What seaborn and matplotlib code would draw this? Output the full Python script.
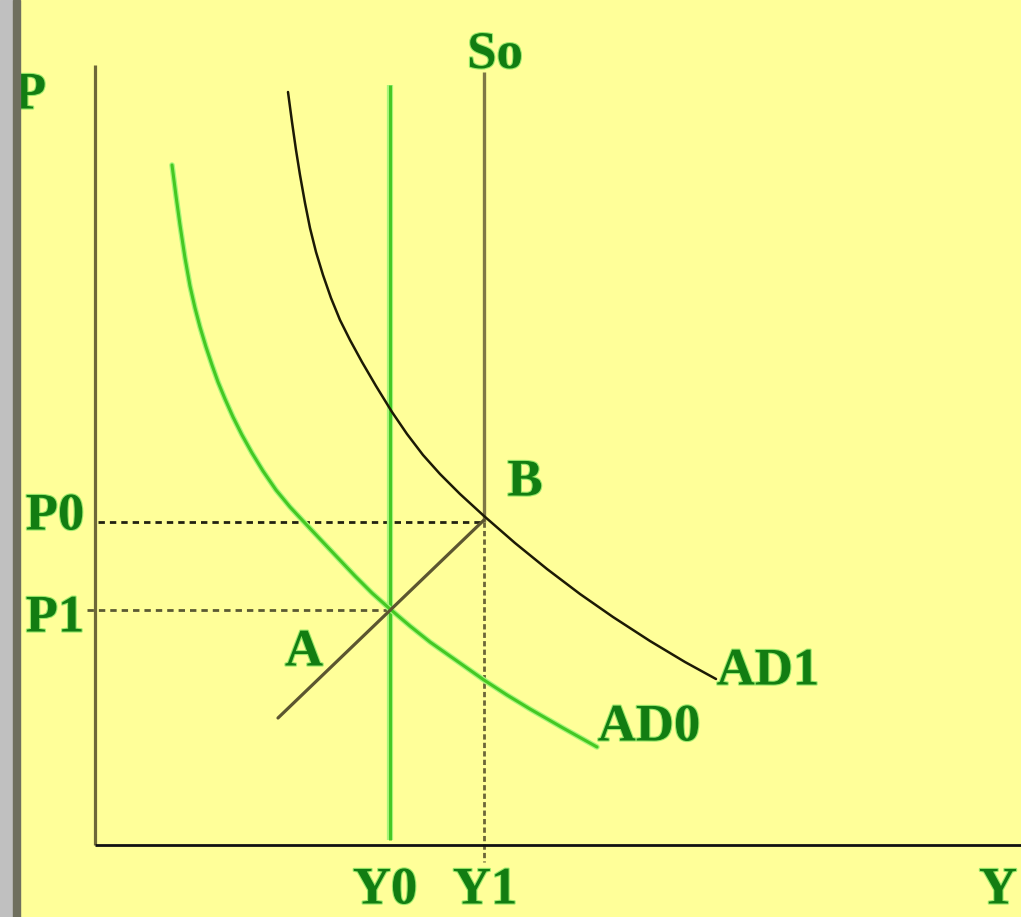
import numpy as np
import pandas as pd
import seaborn as sns
import matplotlib
matplotlib.use("Agg")
import matplotlib.pyplot as plt
from matplotlib import font_manager as fm
from matplotlib import patheffects as pe
from matplotlib.patches import Rectangle

# ---- model values (Y = output, P = price level) ----
Y0 = 29.5          # output before the shift
Y1 = 38.9          # output after the shift (position of So)
P0 = 32.3          # price level at B
P1 = 23.5          # price level at A

# aggregate demand, initial (AD0)
ad0_y = [7.7, 8.1, 8.5, 9.0, 9.5, 10.0, 10.5, 11.1, 11.7, 12.3, 13.0, 13.8, 14.7, 15.7, 16.8, 18.1,
         19.5, 20.9, 22.5, 24.2, 26.0, 27.7, 29.5, 31.5, 33.5, 36.2, 38.9, 41.2, 43.5, 46.8, 50.2]
ad0_p = [68.0, 64.9, 62.0, 58.7, 55.9, 53.7, 51.8, 49.8, 48.0, 46.3, 44.6, 42.8, 41.0, 39.2, 37.4, 35.5,
         33.8, 32.3, 30.6, 28.8, 26.9, 25.2, 23.6, 21.9, 20.3, 18.4, 16.5, 15.0, 13.6, 11.7, 9.8]

# aggregate demand, shifted out (AD1)
ad1_y = [19.3, 19.7, 20.1, 20.5, 21.0, 21.5, 22.1, 22.8, 23.6, 24.5, 25.5, 26.7, 28.1, 29.7, 31.2,
         32.8, 34.5, 36.5, 38.9, 42.0, 45.2, 48.5, 51.8, 55.5, 59.0, 62.1]
ad1_p = [75.3, 72.3, 69.5, 67.0, 64.2, 61.7, 59.3, 57.0, 54.7, 52.5, 50.5, 48.3, 45.9, 43.3, 41.1,
         39.0, 37.1, 35.1, 32.9, 30.2, 27.6, 25.1, 22.8, 20.4, 18.3, 16.6]

# path through the equilibria A -> B
ab_y = [18.3, 38.9]
ab_p = [12.7, 32.5]

point_labels = ["P", "So", "P0", "P1", "A", "B", "AD1", "AD0", "Y0", "Y1", "Y"]

# ---- styling ----
BG = "#FFFF99"
TXT = "#127d12"

sns.set_theme(style="white")
names = {f.name for f in fm.fontManager.ttflist}
family = next((n for n in ["Liberation Serif", "DejaVu Serif"] if n in names), "DejaVu Sans")
plt.rcParams["font.family"] = [family, "DejaVu Sans"]
plt.rcParams["lines.scale_dashes"] = False

W, H = 1021, 917
fig = plt.figure(figsize=(W / 100, H / 100), dpi=100, facecolor=BG)
ax = fig.add_axes([0, 0, 1, 1])
ax.set_facecolor(BG)
ax.set_xlim(-9.5, 92.6)
ax.set_ylim(-7.2, 84.5)
ax.set_axis_off()

# window frame strip on the left
fig.patches.append(Rectangle((0, 0), 13 / W, 1, transform=fig.transFigure, color="#c0c0c0", zorder=0))
fig.patches.append(Rectangle((13 / W, 0), 7 / W, 1, transform=fig.transFigure, color="#6f6f5e", zorder=0))

# axes
ax.plot([0, 0], [0, 78], color="#6e6838", lw=2.3, solid_capstyle="butt", zorder=3)
ax.plot([0, 92.6], [0, 0], color="#111111", lw=2.0, solid_capstyle="butt", zorder=3)

# reference lines
dash_long = (0, (4.6, 3.6))
dash_short = (0, (3.8, 2.3))
ax.plot([0.3, Y1], [P0, P0], color="#222211", lw=2.0, linestyle=dash_long, zorder=2)
ax.plot([-0.8, Y0], [P1, P1], color="#5b5a33", lw=2.0, linestyle=dash_long, zorder=2)
ax.plot([Y1, Y1], [P0, -1.7], color="#6b6638", lw=2.0, linestyle=dash_short, zorder=2)

# supply lines
ax.plot([Y1, Y1], [P0, 77.3], color="#7f7845", lw=2.4, solid_capstyle="butt", zorder=3)
ax.plot([Y0, Y0], [0.5, 76.0], color="#a8f57a", lw=4.5, solid_capstyle="butt", zorder=3)
ax.plot([Y0, Y0], [0.5, 76.0], color="#45c825", lw=2.2, solid_capstyle="butt", zorder=3)

# demand curves
ad0 = pd.DataFrame({"Y": ad0_y, "P": ad0_p})
ad1 = pd.DataFrame({"Y": ad1_y, "P": ad1_p})
ab = pd.DataFrame({"Y": ab_y, "P": ab_p})
sns.lineplot(data=ad0, x="Y", y="P", sort=False, estimator=None, ax=ax, color="#a8f57a", lw=4.0, zorder=4)
sns.lineplot(data=ad0, x="Y", y="P", sort=False, estimator=None, ax=ax, color="#44c822", lw=2.2, zorder=4)
sns.lineplot(data=ad1, x="Y", y="P", sort=False, estimator=None, ax=ax, color="#1c1a05", lw=1.8, zorder=4)
sns.lineplot(data=ab, x="Y", y="P", sort=False, estimator=None, ax=ax, color="#5c5630", lw=2.3, zorder=4)

# labels
label_pos = {
    "P": (-6.5, 73.65), "So": (40.0, 77.7), "P0": (-4.0, 31.55), "P1": (-4.0, 21.35),
    "A": (20.9, 17.95), "B": (43.0, 34.95), "AD1": (67.3, 16.05), "AD0": (55.4, 10.45),
    "Y0": (29.0, -5.85), "Y1": (39.0, -5.85), "Y": (90.3, -5.85),
}
halo = [pe.withStroke(linewidth=1.6, foreground="#9be86a")]
for lab in point_labels:
    x, y = label_pos[lab]
    ax.text(x, y, lab, ha="center", va="baseline", color=TXT, fontsize=38,
            fontweight="bold", path_effects=halo, zorder=6)

fig.savefig("out.png", dpi=100, facecolor=BG)
